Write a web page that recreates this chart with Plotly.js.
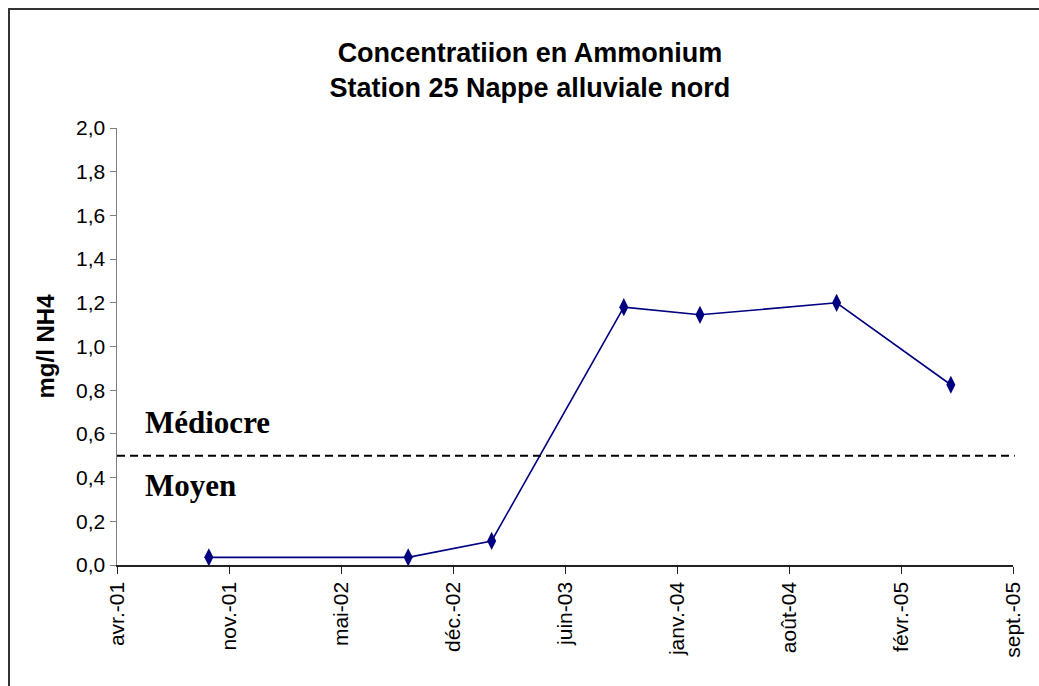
<!DOCTYPE html>
<html>
<head>
<meta charset="utf-8">
<script src="https://cdn.plot.ly/plotly-3.0.1.min.js"></script>
<style>
  html, body { margin: 0; padding: 0; background: #fff; }
  #wrap { position: relative; width: 1039px; height: 686px; overflow: hidden; }
  #chart { width: 1039px; height: 686px; }
  #frame { position: absolute; left: 8px; top: 8px; width: 1100px; height: 800px;
           border-left: 2px solid #333; border-top: 2px solid #333; pointer-events: none; }
</style>
</head>
<body>
<div id="wrap">
  <div id="chart"></div>
  <div id="frame"></div>
</div>
<script>
// Data
const sampleDates = ['2001-10-01', '2002-09-22', '2003-02-18', '2003-10-12', '2004-02-25', '2004-10-26', '2005-05-18'];
const ammonium = [0.035, 0.035, 0.11, 1.18, 1.145, 1.20, 0.825];

// Axis ticks (Excel date axis, 200-day major unit)
const tickDates = ['2001-04-20', '2001-11-06', '2002-05-25', '2002-12-11', '2003-06-29', '2004-01-15', '2004-08-02', '2005-02-18', '2005-09-06'];
const tickLabels = ['avr.-01', 'nov.-01', 'mai-02', 'déc.-02', 'juin-03', 'janv.-04', 'août-04', 'févr.-05', 'sept.-05'];

// Quality threshold and class labels
const threshold = 0.5;
const classLabels = ['Médiocre', 'Moyen'];
const classLabelY = [0.65, 0.365];

const trace = {
  x: sampleDates,
  y: ammonium,
  type: 'scatter',
  mode: 'lines+markers',
  line: { color: '#000080', width: 1.6 },
  marker: { symbol: 'diamond-tall', size: 13, color: '#000080' },
  showlegend: false,
  hoverinfo: 'x+y'
};

const layout = {
  width: 1039,
  height: 686,
  paper_bgcolor: '#ffffff',
  plot_bgcolor: '#ffffff',
  separators: ', ',
  margin: { l: 117, r: 26, t: 128, b: 121 },
  font: { family: '"Liberation Sans", Arial, sans-serif', color: '#000' },
  title: {
    text: 'Concentratiion en Ammonium<br>Station 25 Nappe alluviale nord',
    font: { family: '"Liberation Sans", Arial, sans-serif', size: 27, color: '#000', weight: 'bold' },
    x: 0.51, xref: 'container', xanchor: 'center',
    y: 0.91, yref: 'container', yanchor: 'middle'
  },
  xaxis: {
    type: 'date',
    range: [tickDates[0], tickDates[tickDates.length - 1]],
    tickmode: 'array',
    tickvals: tickDates,
    ticktext: tickLabels,
    tickangle: -90,
    ticks: 'outside',
    ticklen: 7,
    tickcolor: '#222',
    showline: true,
    linecolor: '#222',
    linewidth: 1.5,
    showgrid: false,
    zeroline: false,
    tickfont: { size: 21, color: '#000' }
  },
  yaxis: {
    range: [0, 2],
    tick0: 0,
    dtick: 0.2,
    tickformat: '.1f',
    ticks: 'outside',
    ticklen: 6,
    tickcolor: '#808080',
    showline: true,
    linecolor: '#808080',
    linewidth: 1.5,
    showgrid: false,
    zeroline: false,
    tickfont: { size: 21, color: '#000' },
    title: {
      text: 'mg/l NH4',
      font: { size: 24, color: '#000', weight: 'bold' },
      standoff: 14
    }
  },
  shapes: [{
    type: 'line',
    xref: 'paper', x0: 0, x1: 1.002,
    yref: 'y', y0: threshold, y1: threshold,
    line: { color: '#000', width: 2, dash: '8px,5px' }
  }],
  annotations: classLabels.map((t, i) => ({
    text: t,
    xref: 'paper', x: 0.029, xanchor: 'left',
    yref: 'y', y: classLabelY[i], yanchor: 'middle',
    showarrow: false,
    font: { family: '"Liberation Serif", "Times New Roman", serif', size: 31, color: '#000', weight: 'bold' }
  }))
};

Plotly.newPlot('chart', [trace], layout, { displayModeBar: false, staticPlot: true });
</script>
</body>
</html>
